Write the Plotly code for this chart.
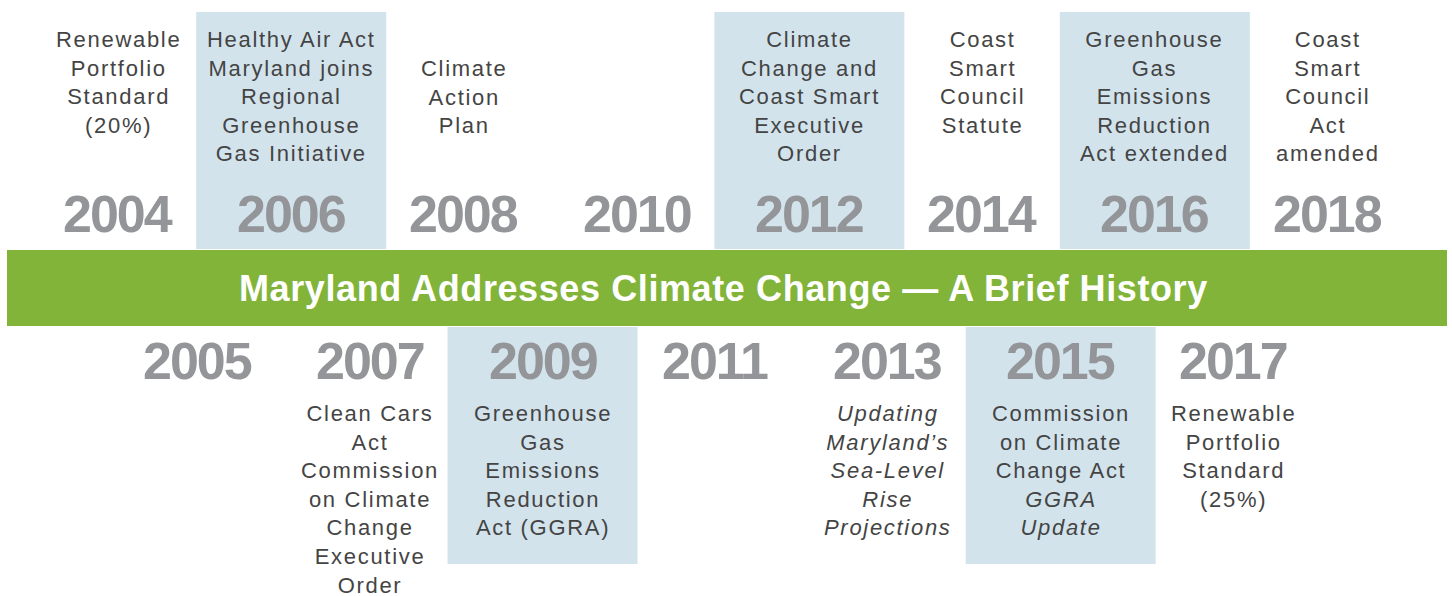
import plotly.graph_objects as go

# timeline entries above the band (even years) and below it (odd years)
top_years = [2004, 2006, 2008, 2010, 2012, 2014, 2016, 2018]
top_text = [
    "Renewable<br>Portfolio<br>Standard<br>(20%)",
    "Healthy Air Act<br>Maryland joins<br>Regional<br>Greenhouse<br>Gas Initiative",
    "Climate<br>Action<br>Plan",
    "",
    "Climate<br>Change and<br>Coast Smart<br>Executive<br>Order",
    "Coast<br>Smart<br>Council<br>Statute",
    "Greenhouse<br>Gas<br>Emissions<br>Reduction<br>Act extended",
    "Coast<br>Smart<br>Council<br>Act<br>amended",
]
top_shaded = [2006, 2012, 2016]

bottom_years = [2005, 2007, 2009, 2011, 2013, 2015, 2017]
bottom_text = [
    "",
    "Clean Cars<br>Act<br>Commission<br>on Climate<br>Change<br>Executive<br>Order",
    "Greenhouse<br>Gas<br>Emissions<br>Reduction<br>Act (GGRA)",
    "",
    "<i>Updating<br>Maryland’s<br>Sea-Level<br>Rise<br>Projections</i>",
    "Commission<br>on Climate<br>Change Act<br><i>GGRA<br>Update</i>",
    "Renewable<br>Portfolio<br>Standard<br>(25%)",
]
bottom_shaded = [2009, 2015]

title = "Maryland Addresses Climate Change — A Brief History"

W, H = 1452, 596
X0, X1 = 2002.628, 2019.441
BOTTOM_SHIFT = -0.09
BOX_W = 2.2
GREEN = "#82b43a"
SHADE = "#d2e3ec"
YEAR_GRAY = "#939598"
TEXT = "#444444"
BODY_FONT = dict(family="Liberation Sans, Arial, sans-serif", size=22, color=TEXT)
YEAR_FONT = dict(family="Liberation Sans, Arial, sans-serif", size=52, color=YEAR_GRAY, weight="bold")


def spaced(s, px):
    return f"<span style='letter-spacing:{px}px'>{s}</span>" if s else s


fig = go.Figure()
shapes = []
for yr in top_shaded:
    shapes.append(dict(type="rect", xref="x", yref="y", x0=yr - BOX_W / 2, x1=yr + BOX_W / 2,
                       y0=12, y1=249, fillcolor=SHADE, line_width=0, layer="below"))
for yr in bottom_shaded:
    xc = yr + BOTTOM_SHIFT
    shapes.append(dict(type="rect", xref="x", yref="y", x0=xc - BOX_W / 2, x1=xc + BOX_W / 2,
                       y0=327, y1=564, fillcolor=SHADE, line_width=0, layer="below"))
shapes.append(dict(type="rect", xref="paper", yref="y", x0=7 / W, x1=1447 / W,
                   y0=250, y1=326, fillcolor=GREEN, line_width=0, layer="below"))

ann = []
for yr, txt in zip(top_years, top_text):
    ann.append(dict(x=yr, y=214, text=spaced(str(yr), -2), font=YEAR_FONT, showarrow=False,
                    xanchor="center", yanchor="middle"))
    if txt:
        first = 69 if yr == 2008 else 40
        ann.append(dict(x=yr, y=first - 15, text=spaced(txt, 1.7), font=BODY_FONT, showarrow=False,
                        xanchor="center", yanchor="top", align="center"))
for yr, txt in zip(bottom_years, bottom_text):
    xc = yr + BOTTOM_SHIFT
    ann.append(dict(x=xc, y=361, text=spaced(str(yr), -2), font=YEAR_FONT, showarrow=False,
                    xanchor="center", yanchor="middle"))
    if txt:
        ann.append(dict(x=xc, y=414 - 15, text=spaced(txt, 1.7), font=BODY_FONT, showarrow=False,
                        xanchor="center", yanchor="top", align="center"))

ann.append(dict(x=723.5 / W, xref="paper", y=288, yref="y", text=spaced(f"<b>{title}</b>", 0.6),
                font=dict(family="Liberation Sans, Arial, sans-serif", size=36, color="white"),
                showarrow=False, xanchor="center", yanchor="middle"))

fig.update_layout(
    width=W, height=H,
    margin=dict(l=0, r=0, t=0, b=0),
    paper_bgcolor="white", plot_bgcolor="white",
    xaxis=dict(range=[X0, X1], visible=False, fixedrange=True),
    yaxis=dict(range=[H, 0], visible=False, fixedrange=True),
    shapes=shapes, annotations=ann, showlegend=False,
)
fig.write_html("out.html", config={"displayModeBar": False},
               post_script="document.body.style.margin='0';document.body.style.overflow='hidden';")
